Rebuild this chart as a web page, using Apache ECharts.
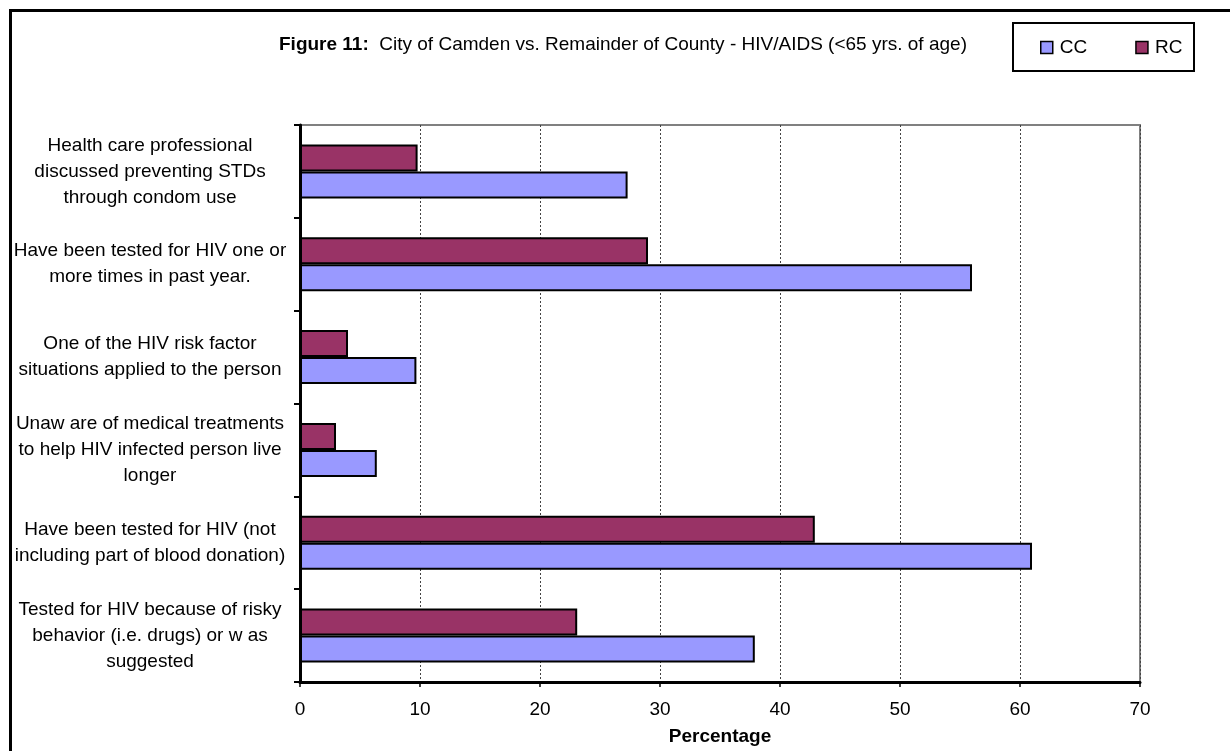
<!DOCTYPE html>
<html>
<head>
<meta charset="utf-8">
<title>Figure 11: City of Camden vs. Remainder of County - HIV/AIDS</title>
<script src="https://cdn.jsdelivr.net/npm/echarts@6/dist/echarts.min.js"></script>
<style>
  html, body { margin: 0; padding: 0; background: #fff; }
  #chart { width: 1230px; height: 751px; }
</style>
</head>
<body>
<div id="chart"></div>
<script>
// Survey items, listed top to bottom
const categories = [
  'Health care professional\ndiscussed preventing STDs\nthrough condom use',
  'Have been tested for HIV one or\nmore times in past year.',
  'One of the HIV risk factor\nsituations applied to the person',
  'Unaw are of medical treatments\nto help HIV infected person live\nlonger',
  'Have been tested for HIV (not\nincluding part of blood donation)',
  'Tested for HIV because of risky\nbehavior (i.e. drugs) or w as\nsuggested'
];

// Percentages: City of Camden (CC) and Remainder of County (RC)
const ccValues = [27.3, 56.0, 9.7, 6.4, 61.0, 37.9];
const rcValues = [9.8, 29.0, 4.0, 3.0, 42.9, 23.1];

const seriesNames = ['CC', 'RC'];
const xTicks = { min: 0, max: 70, interval: 10 };

const FONT = '"Liberation Sans", Arial, sans-serif';

const chart = echarts.init(document.getElementById('chart'), null, { renderer: 'canvas' });

const option = {
  backgroundColor: '#ffffff',
  animation: false,
  textStyle: { fontFamily: FONT, color: '#000' },
  title: {
    text: '{b|Figure 11:}  City of Camden vs. Remainder of County - HIV/AIDS (<65 yrs. of age)',
    left: 279,
    top: 35,
    padding: 0,
    textStyle: {
      fontFamily: FONT,
      fontSize: 19,
      fontWeight: 'normal',
      color: '#000',
      rich: {
        b: { fontFamily: FONT, fontSize: 19, fontWeight: 'bold', color: '#000' }
      }
    }
  },
  legend: {
    data: seriesNames,
    left: 1040,
    top: 38,
    padding: 0,
    itemWidth: 12,
    itemHeight: 12,
    itemGap: 48,
    icon: 'rect',
    selectedMode: false,
    itemStyle: { borderColor: '#000', borderWidth: 1.5 },
    textStyle: { fontFamily: FONT, fontSize: 19, color: '#000', padding: [0, 0, 0, 2] }
  },
  graphic: [
    // outer frame of the figure
    {
      type: 'rect',
      shape: { x: 10.5, y: 10.5, width: 1240, height: 760 },
      style: { fill: null, stroke: '#000', lineWidth: 3 },
      silent: true, z: 100
    },
    // box around the legend
    {
      type: 'rect',
      shape: { x: 1013, y: 23, width: 181, height: 48 },
      style: { fill: null, stroke: '#000', lineWidth: 2 },
      silent: true, z: 100
    }
  ],
  grid: {
    left: 300,
    right: 90,
    top: 125,
    bottom: 69,
    containLabel: false,
    show: true,
    borderColor: '#808080',
    borderWidth: 2,
    backgroundColor: 'transparent'
  },
  xAxis: {
    type: 'value',
    min: xTicks.min,
    max: xTicks.max,
    interval: xTicks.interval,
    name: 'Percentage',
    nameLocation: 'middle',
    nameGap: 45,
    nameTextStyle: { fontFamily: FONT, fontSize: 19, fontWeight: 'bold', color: '#000' },
    axisLine: { show: true, lineStyle: { color: '#000', width: 3 } },
    axisTick: { show: true, length: 5, lineStyle: { color: '#000', width: 1.5 } },
    axisLabel: { fontFamily: FONT, fontSize: 19, color: '#000', margin: 18 },
    splitLine: { show: true, lineStyle: { color: '#444', width: 1, type: [2, 2] } }
  },
  yAxis: {
    type: 'category',
    data: categories,
    inverse: true,
    axisLine: { show: true, lineStyle: { color: '#000', width: 3 } },
    axisTick: { show: true, length: 6, alignWithLabel: false, lineStyle: { color: '#000', width: 2 } },
    axisLabel: {
      fontFamily: FONT,
      fontSize: 19,
      lineHeight: 26,
      color: '#000',
      align: 'center',
      margin: 150,
      interval: 0
    },
    splitLine: { show: false }
  },
  series: [
    {
      name: 'RC',
      type: 'bar',
      data: rcValues,
      barWidth: 27,
      barGap: '0%',
      itemStyle: { color: '#993366', borderColor: '#000', borderWidth: 2 }
    },
    {
      name: 'CC',
      type: 'bar',
      data: ccValues,
      barWidth: 27,
      barGap: '0%',
      itemStyle: { color: '#9999FF', borderColor: '#000', borderWidth: 2 }
    }
  ]
};

chart.setOption(option);
</script>
</body>
</html>
